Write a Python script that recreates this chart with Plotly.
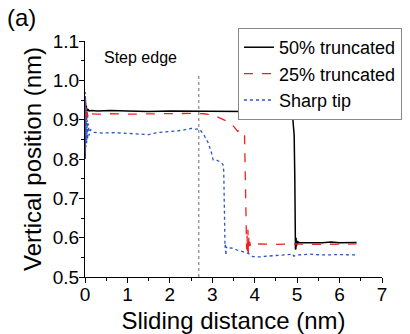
import plotly.graph_objects as go

# 50% truncated
x50 = [0, 0.005, 0.01, 0.015, 0.02, 0.03, 0.04, 0.05, 0.06, 0.08, 0.1, 0.15, 0.3, 0.6, 1.0, 1.5, 2.0, 2.5,
       3.0, 3.5, 3.8, 3.85, 4.1, 4.4, 4.7, 4.85, 4.9, 4.93, 4.945, 4.95, 4.955, 4.96, 4.965, 4.97, 4.975,
       4.98, 4.985, 4.99, 5.0, 5.01, 5.03, 5.06, 5.2, 5.6, 5.8, 6.0, 6.4]
y50 = [0.80, 0.96, 0.93, 0.95, 0.925, 0.935, 0.922, 0.928, 0.922, 0.925, 0.922, 0.923, 0.922, 0.923, 0.922,
       0.921, 0.922, 0.922, 0.921, 0.922, 0.921, 0.918, 0.916, 0.912, 0.910, 0.909, 0.90, 0.86, 0.75, 0.66,
       0.60, 0.57, 0.605, 0.572, 0.60, 0.578, 0.595, 0.582, 0.592, 0.585, 0.589, 0.587, 0.587, 0.587, 0.589,
       0.587, 0.588]

# 25% truncated
x25 = [0, 0.005, 0.01, 0.015, 0.02, 0.03, 0.04, 0.05, 0.06, 0.08, 0.1, 0.15, 0.3, 0.6, 1.0, 1.5, 2.0, 2.5,
       2.8, 3.0, 3.1, 3.2, 3.3, 3.45, 3.55, 3.6, 3.65, 3.72, 3.76, 3.77, 3.78, 3.79, 3.8, 3.81, 3.82, 3.83,
       3.84, 3.85, 3.86, 3.87, 3.88, 3.9, 3.93, 3.97, 4.1, 4.5, 5.0, 5.5, 6.0, 6.4]
y25 = [0.82, 0.96, 0.88, 0.94, 0.89, 0.935, 0.90, 0.925, 0.905, 0.92, 0.912, 0.915, 0.914, 0.915, 0.914,
       0.915, 0.915, 0.916, 0.915, 0.912, 0.908, 0.902, 0.898, 0.89, 0.878, 0.87, 0.874, 0.868, 0.866, 0.80,
       0.70, 0.62, 0.59, 0.57, 0.605, 0.565, 0.62, 0.56, 0.60, 0.575, 0.59, 0.58, 0.586, 0.583, 0.584, 0.583,
       0.584, 0.583, 0.584, 0.584]

# Sharp tip
xs = [0, 0.005, 0.01, 0.015, 0.02, 0.03, 0.04, 0.05, 0.06, 0.08, 0.1, 0.13, 0.2, 0.4, 0.7, 1.0, 1.3, 1.5,
      1.7, 2.0, 2.3, 2.5, 2.6, 2.7, 2.8, 2.9, 2.97, 3.02, 3.1, 3.2, 3.25, 3.27, 3.28, 3.29, 3.3, 3.31, 3.32,
      3.33, 3.35, 3.45, 3.6, 3.75, 3.85, 3.95, 4.1, 4.3, 4.6, 4.9, 4.92, 5.0, 5.3, 5.6, 6.0, 6.4]
ys = [0.80, 0.97, 0.84, 0.93, 0.83, 0.92, 0.84, 0.90, 0.85, 0.89, 0.86, 0.875, 0.868, 0.866, 0.867, 0.865,
      0.864, 0.862, 0.867, 0.870, 0.873, 0.878, 0.876, 0.876, 0.862, 0.842, 0.82, 0.798, 0.797, 0.792, 0.786,
      0.77, 0.70, 0.62, 0.575, 0.585, 0.555, 0.577, 0.572, 0.574, 0.568, 0.563, 0.56, 0.552, 0.551, 0.553,
      0.555, 0.558, 0.553, 0.556, 0.558, 0.556, 0.557, 0.556]

step_edge_x = 2.68

FONT = "Arial, Liberation Sans, sans-serif"

fig = go.Figure()
fig.add_trace(go.Scatter(x=x50, y=y50, mode="lines", name="50% truncated",
                         line=dict(color="black", width=1.5)))
fig.add_trace(go.Scatter(x=x25, y=y25, mode="lines", name="25% truncated",
                         line=dict(color="#f02020", width=1.3, dash="dash")))
fig.add_trace(go.Scatter(x=xs, y=ys, mode="lines", name="Sharp tip",
                         line=dict(color="#2a55c8", width=1.3, dash="dot")))

fig.add_shape(type="line", x0=step_edge_x, x1=step_edge_x, y0=0.5, y1=1.015, xref="x", yref="y",
              line=dict(color="#999999", width=1.5, dash="dot"))
fig.add_annotation(x=0.4, y=1.058, xref="x", yref="y", text="Step edge", showarrow=False,
                   xanchor="left", yanchor="middle", font=dict(family=FONT, size=16, color="black"))
fig.add_annotation(x=-0.27, y=1.1, xref="paper", yref="paper", text="(a)", showarrow=False,
                   xanchor="left", yanchor="middle", font=dict(family=FONT, size=24, color="black"))

fig.update_layout(
    width=410, height=334,
    margin=dict(l=85, r=28, t=41, b=57, autoexpand=False),
    paper_bgcolor="white", plot_bgcolor="white",
    font=dict(family=FONT, color="black"),
    showlegend=True,
    legend=dict(x=0.515, y=1.055, xanchor="left", yanchor="top",
                bordercolor="#888888", borderwidth=1, bgcolor="white",
                font=dict(family=FONT, size=18), tracegroupgap=0,
                itemwidth=30),
    xaxis=dict(range=[0, 7], dtick=1, tick0=0, showline=True, linecolor="black", linewidth=1,
               ticks="outside", ticklen=5, tickcolor="black", showgrid=False, zeroline=False,
               ticklabelstandoff=-5,
               tickfont=dict(size=19), title=dict(text="Sliding distance (nm)", font=dict(size=24), standoff=8),
               minor=dict(ticks="outside", ticklen=3, dtick=0.5, tickcolor="black", showgrid=False)),
    yaxis=dict(range=[0.5, 1.1], dtick=0.1, tick0=0.5, tickformat=".1f", showline=True, linecolor="black",
               linewidth=1, ticks="outside", ticklen=5, tickcolor="black", showgrid=False, zeroline=False,
               ticklabelstandoff=-4,
               tickfont=dict(size=19), title=dict(text="Vertical position (nm)", font=dict(size=24), standoff=4),
               minor=dict(ticks="outside", ticklen=3, dtick=0.05, tickcolor="black", showgrid=False)),
)

fig.write_html("out.html")
